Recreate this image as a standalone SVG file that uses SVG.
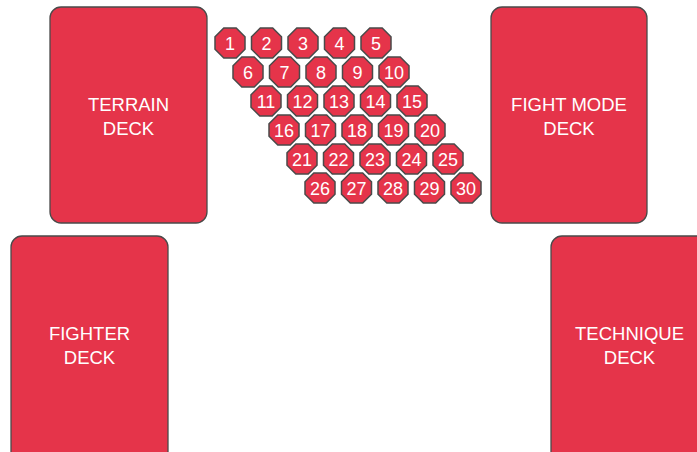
<svg xmlns="http://www.w3.org/2000/svg" width="697" height="452" viewBox="0 0 697 452">
<defs>
<style>
.card{fill:#e5344a;stroke:#4a4a4a;stroke-width:1.3}
.oct{fill:#e5344a;stroke:#4a4a4a;stroke-width:1.5}
.ct{fill:#ffffff;font-family:"Liberation Sans",Arial,sans-serif;font-size:18.5px;text-anchor:middle}
.nt{fill:#ffffff;font-family:"Liberation Sans",Arial,sans-serif;font-size:18px;text-anchor:middle}
</style>
<polygon id="octa" points="-6.2,-15 6.2,-15 15,-6.2 15,6.2 6.2,15 -6.2,15 -15,6.2 -15,-6.2"/>
</defs>
<rect width="697" height="452" fill="#ffffff"/>
<g id="terrain-deck">
<rect class="card" x="50" y="7" width="157" height="216" rx="11"/>
<text class="ct" x="128.5" y="111">TERRAIN</text>
<text class="ct" x="128.5" y="135">DECK</text>
</g>
<g id="fight-mode-deck">
<rect class="card" x="491" y="7" width="156" height="216" rx="11"/>
<text class="ct" x="569" y="111">FIGHT MODE</text>
<text class="ct" x="569" y="135">DECK</text>
</g>
<g id="fighter-deck">
<rect class="card" x="11" y="236" width="157" height="230" rx="11"/>
<text class="ct" x="89.5" y="340">FIGHTER</text>
<text class="ct" x="89.5" y="364">DECK</text>
</g>
<g id="technique-deck">
<rect class="card" x="551" y="236" width="157" height="230" rx="11"/>
<text class="ct" x="629.5" y="340">TECHNIQUE</text>
<text class="ct" x="629.5" y="364">DECK</text>
</g>
<g id="connectors"></g>
<g id="n1" transform="translate(230,43)"><use href="#octa" class="oct"/><text class="nt" y="6.5">1</text></g>
<g id="n2" transform="translate(266.5,43)"><use href="#octa" class="oct"/><text class="nt" y="6.5">2</text></g>
<g id="n3" transform="translate(303,43)"><use href="#octa" class="oct"/><text class="nt" y="6.5">3</text></g>
<g id="n4" transform="translate(339.5,43)"><use href="#octa" class="oct"/><text class="nt" y="6.5">4</text></g>
<g id="n5" transform="translate(376,43)"><use href="#octa" class="oct"/><text class="nt" y="6.5">5</text></g>
<g id="n6" transform="translate(248,72)"><use href="#octa" class="oct"/><text class="nt" y="6.5">6</text></g>
<g id="n7" transform="translate(284.5,72)"><use href="#octa" class="oct"/><text class="nt" y="6.5">7</text></g>
<g id="n8" transform="translate(321,72)"><use href="#octa" class="oct"/><text class="nt" y="6.5">8</text></g>
<g id="n9" transform="translate(357.5,72)"><use href="#octa" class="oct"/><text class="nt" y="6.5">9</text></g>
<g id="n10" transform="translate(394,72)"><use href="#octa" class="oct"/><text class="nt" y="6.5">10</text></g>
<g id="n11" transform="translate(266,101)"><use href="#octa" class="oct"/><text class="nt" y="6.5">11</text></g>
<g id="n12" transform="translate(302.5,101)"><use href="#octa" class="oct"/><text class="nt" y="6.5">12</text></g>
<g id="n13" transform="translate(339,101)"><use href="#octa" class="oct"/><text class="nt" y="6.5">13</text></g>
<g id="n14" transform="translate(375.5,101)"><use href="#octa" class="oct"/><text class="nt" y="6.5">14</text></g>
<g id="n15" transform="translate(412,101)"><use href="#octa" class="oct"/><text class="nt" y="6.5">15</text></g>
<g id="n16" transform="translate(284,130)"><use href="#octa" class="oct"/><text class="nt" y="6.5">16</text></g>
<g id="n17" transform="translate(320.5,130)"><use href="#octa" class="oct"/><text class="nt" y="6.5">17</text></g>
<g id="n18" transform="translate(357,130)"><use href="#octa" class="oct"/><text class="nt" y="6.5">18</text></g>
<g id="n19" transform="translate(393.5,130)"><use href="#octa" class="oct"/><text class="nt" y="6.5">19</text></g>
<g id="n20" transform="translate(430,130)"><use href="#octa" class="oct"/><text class="nt" y="6.5">20</text></g>
<g id="n21" transform="translate(302,159)"><use href="#octa" class="oct"/><text class="nt" y="6.5">21</text></g>
<g id="n22" transform="translate(338.5,159)"><use href="#octa" class="oct"/><text class="nt" y="6.5">22</text></g>
<g id="n23" transform="translate(375,159)"><use href="#octa" class="oct"/><text class="nt" y="6.5">23</text></g>
<g id="n24" transform="translate(411.5,159)"><use href="#octa" class="oct"/><text class="nt" y="6.5">24</text></g>
<g id="n25" transform="translate(448,159)"><use href="#octa" class="oct"/><text class="nt" y="6.5">25</text></g>
<g id="n26" transform="translate(320,188)"><use href="#octa" class="oct"/><text class="nt" y="6.5">26</text></g>
<g id="n27" transform="translate(356.5,188)"><use href="#octa" class="oct"/><text class="nt" y="6.5">27</text></g>
<g id="n28" transform="translate(393,188)"><use href="#octa" class="oct"/><text class="nt" y="6.5">28</text></g>
<g id="n29" transform="translate(429.5,188)"><use href="#octa" class="oct"/><text class="nt" y="6.5">29</text></g>
<g id="n30" transform="translate(466,188)"><use href="#octa" class="oct"/><text class="nt" y="6.5">30</text></g>
</svg>
